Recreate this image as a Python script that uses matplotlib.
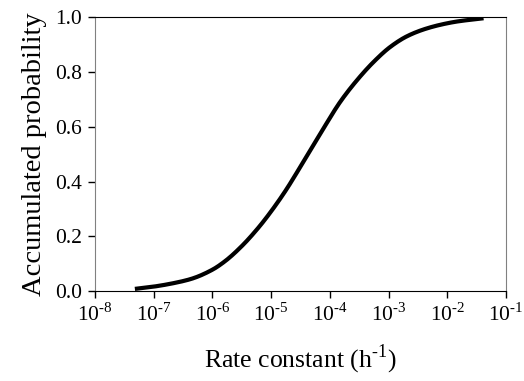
import numpy as np
import matplotlib.pyplot as plt
from matplotlib.ticker import FixedLocator, NullLocator

plt.rcParams['font.family'] = 'Liberation Serif'
plt.rcParams['mathtext.fontset'] = 'custom'
plt.rcParams['mathtext.rm'] = 'Liberation Serif'

# values
rate = [4.8e-8, 9.8e-8, 2.31e-7, 4.44e-7, 1.0e-6, 1.64e-6, 3.16e-6, 6.05e-6,
        1.0e-5, 1.73e-5, 3.32e-5, 4.31e-5, 7.74e-5, 1.49e-4, 2.87e-4, 5.51e-4,
        1.06e-3, 2.04e-3, 3.92e-3, 7.53e-3, 1.45e-2, 4.12e-2]
prob = [0.008, 0.016, 0.030, 0.045, 0.078, 0.109, 0.164, 0.231,
        0.291, 0.364, 0.462, 0.502, 0.593, 0.690, 0.769, 0.836,
        0.891, 0.930, 0.955, 0.972, 0.984, 0.996]

xticks = [1e-8, 1e-7, 1e-6, 1e-5, 1e-4, 1e-3, 1e-2, 1e-1]
xlabels = [r'10$^{\text{-%d}}$' % k for k in range(8, 0, -1)]
yticks = [0.0, 0.2, 0.4, 0.6, 0.8, 1.0]


def pchip(x, y, xn):
    # monotone cubic through the read points
    x = np.asarray(x, float)
    y = np.asarray(y, float)
    h = np.diff(x)
    d = np.diff(y) / h
    m = np.zeros_like(y)
    for i in range(1, len(y) - 1):
        if d[i - 1] * d[i] > 0:
            w1 = 2 * h[i] + h[i - 1]
            w2 = h[i] + 2 * h[i - 1]
            m[i] = (w1 + w2) / (w1 / d[i - 1] + w2 / d[i])
    m[0] = d[0]
    m[-1] = d[-1]
    idx = np.clip(np.searchsorted(x, xn) - 1, 0, len(h) - 1)
    t = (xn - x[idx]) / h[idx]
    h00 = 2 * t**3 - 3 * t**2 + 1
    h10 = t**3 - 2 * t**2 + t
    h01 = -2 * t**3 + 3 * t**2
    h11 = t**3 - t**2
    return h00 * y[idx] + h10 * h[idx] * m[idx] + h01 * y[idx + 1] + h11 * h[idx] * m[idx + 1]


lx = np.log10(rate)
xs = np.linspace(lx[0], lx[-1], 400)
ys = pchip(lx, prob, xs)

fig = plt.figure(figsize=(5.24, 3.81), dpi=100)
ax = fig.add_axes([0.181, 0.236, 0.785, 0.719])
ax.plot(10 ** xs, ys, color='black', lw=3, solid_capstyle='butt')

ax.set_xscale('log')
ax.set_xlim(1e-8, 1e-1)
ax.set_ylim(0, 1)
ax.xaxis.set_major_locator(FixedLocator(xticks))
ax.xaxis.set_minor_locator(NullLocator())
ax.set_xticklabels(xlabels)
ax.set_yticks(yticks)
ax.set_yticklabels(['%.1f' % v for v in yticks])
ax.tick_params(axis='both', direction='out', length=5, width=1, labelsize=15.5, pad=4)

for s in ['left', 'right']:
    ax.spines[s].set_color('#808080')
for s in ['top', 'bottom']:
    ax.spines[s].set_color('black')

ax.set_xlabel(r'Rate constant (h$^{\text{-1}}$)', fontsize=18.5, labelpad=12)
ax.set_ylabel('Accumulated probability', fontsize=20.5, labelpad=6)

fig.savefig('out.png', dpi=100)
